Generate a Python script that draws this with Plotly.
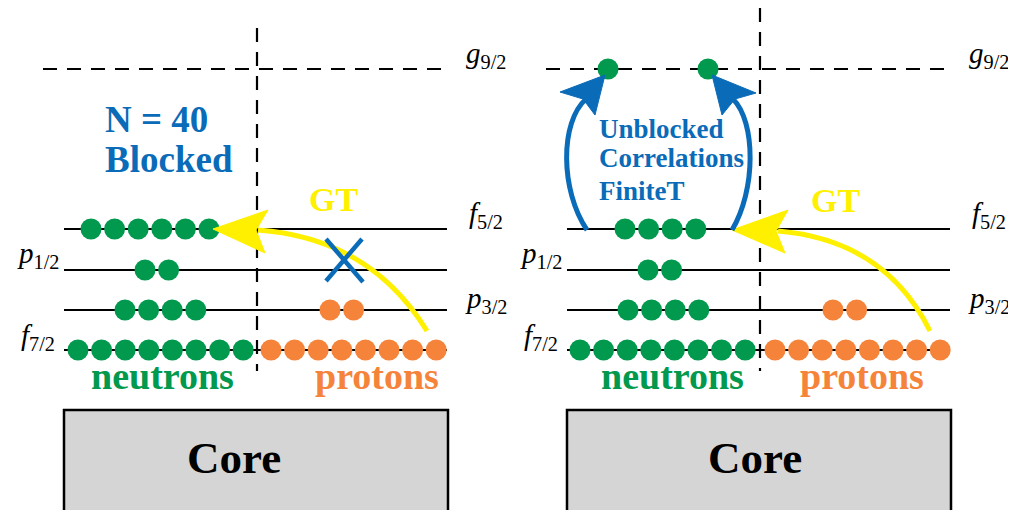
import plotly.graph_objects as go

# shell-model occupancies, levels from the bottom up
levels = ["f7/2", "p3/2", "p1/2", "f5/2", "g9/2"]
blocked_neutrons = [8, 4, 2, 6, 0]
blocked_protons = [8, 2, 0, 0, 0]
unblocked_neutrons = [8, 4, 2, 4, 2]
unblocked_protons = [8, 2, 0, 0, 0]

# layout (pixel-like coordinates, y grows downwards)
level_y = [350, 310, 270, 229, 69]
label_side = ["left", "right", "left", "right", "right"]
label_y = [337, 300, 255, 215, 55]
n_start = {"left": [78, 125, 145, 91, 0], "right": [580, 628, 648, 625, 608]}
p_start = {"left": [271, 330, 0, 0, 0], "right": [775, 833, 0, 0, 0]}
n_step = {"left": [23.6] * 5, "right": [23.6, 23.6, 23.6, 23.6, 100]}
# x centres of "neutrons", "protons", "Core"
text_x = {"left": [162, 377, 234], "right": [672, 862, 755]}
OFF = 503
PAGE = 8  # body margin of the html page

GREEN = "#00994d"
ORANGE = "#f5843a"
BLUE = "#0a6bb8"
YELLOW = "#fff000"
FONT = "Liberation Serif"

fig = go.Figure()
shapes = []
annotations = []


def text(x, y, s, size, color="black", xanchor="center", bold=True):
    annotations.append(dict(
        x=x, y=y, xref="x", yref="y", text=s, showarrow=False,
        xanchor=xanchor, yanchor="middle",
        font=dict(family=FONT, size=size, color=color, weight="bold" if bold else "normal"),
    ))


def panel(side, neutrons, protons):
    dx = 0 if side == "left" else OFF
    # core box
    shapes.append(dict(type="rect", xref="x", yref="y", x0=64 + dx, x1=448 + dx, y0=410, y1=520,
                       fillcolor="#d5d5d5", line=dict(color="black", width=2.5), layer="below"))
    # levels
    for i, name in enumerate(levels):
        y = level_y[i]
        if name == "g9/2":
            fig.add_trace(go.Scatter(x=[43 + dx, 447 + dx], y=[y, y], mode="lines",
                                     line=dict(color="black", width=2.2, dash="14px,10px")))
        else:
            fig.add_trace(go.Scatter(x=[64 + dx, 447 + dx], y=[y, y], mode="lines",
                                     line=dict(color="black", width=2.2)))
        lx = (486 if label_side[i] == "right" else 38) + dx
        letter, sub = name[0], name[1:]
        text(lx, label_y[i],
             f"<i style='font-size:29px'>{letter}</i><sub style='font-size:20px'>{sub}</sub>",
             29, bold=False)
    # vertical dashed divider
    fig.add_trace(go.Scatter(x=[257 + dx, 257 + dx], y=[28 if side == "left" else 8, 371], mode="lines",
                             line=dict(color="black", width=2.2, dash="14px,10px")))
    # particles
    xs, ys = [], []
    for i, n in enumerate(neutrons):
        xs += [n_start[side][i] + k * n_step[side][i] for k in range(n)]
        ys += [level_y[i]] * n
    fig.add_trace(go.Scatter(x=xs, y=ys, mode="markers", marker=dict(size=21, color=GREEN)))
    xs, ys = [], []
    for i, n in enumerate(protons):
        xs += [p_start[side][i] + k * 23.6 for k in range(n)]
        ys += [level_y[i]] * n
    fig.add_trace(go.Scatter(x=xs, y=ys, mode="markers", marker=dict(size=21, color=ORANGE)))
    tx = text_x[side]
    text(tx[0], 376, "neutrons", 38, GREEN)
    text(tx[1], 376, "protons", 38, ORANGE)
    text(tx[2], 458, "Core", 45)


panel("left", blocked_neutrons, blocked_protons)
panel("right", unblocked_neutrons, unblocked_protons)


def head(tip, upper, notch, lower, color):
    shapes.append(dict(type="path", xref="x", yref="y",
                       path=f"M{tip[0]},{tip[1]} L{upper[0]},{upper[1]} L{notch[0]},{notch[1]} L{lower[0]},{lower[1]} Z",
                       fillcolor=color, line=dict(color=color, width=1), layer="above"))


# GT arrows
shapes.append(dict(type="path", xref="x", yref="y", path="M427,331 Q370,238 258,230",
                   line=dict(color=YELLOW, width=5), layer="above"))
head((213, 229), (268, 210), (256, 230), (265, 253), YELLOW)
shapes.append(dict(type="path", xref="x", yref="y", path="M930,331 Q885,240 778,231",
                   line=dict(color=YELLOW, width=5), layer="above"))
head((732, 230), (788, 210), (776, 231), (785, 253), YELLOW)
text(333, 199, "GT", 34, YELLOW)
text(835, 200, "GT", 34, YELLOW)

# blocked cross
shapes.append(dict(type="line", xref="x", yref="y", x0=326, y0=239, x1=363, y1=282,
                   line=dict(color=BLUE, width=4.5), layer="above"))
shapes.append(dict(type="line", xref="x", yref="y", x0=362, y0=239, x1=326, y1=281,
                   line=dict(color=BLUE, width=4.5), layer="above"))
text(103, 119, "N = 40", 37, BLUE, xanchor="left")
text(103, 159, "Blocked", 37, BLUE, xanchor="left")

# finite-temperature excitations
shapes.append(dict(type="path", xref="x", yref="y", path="M587,230 C560,190 560,122 586,99",
                   line=dict(color=BLUE, width=5), layer="above"))
head((605, 75), (560, 92), (583, 99), (595, 115), BLUE)
shapes.append(dict(type="path", xref="x", yref="y", path="M732,230 C756,190 756,122 733,99",
                   line=dict(color=BLUE, width=5), layer="above"))
head((712, 75), (756, 93), (735, 99), (722, 115), BLUE)
text(597, 129, "Unblocked", 27, BLUE, xanchor="left")
text(597, 158, "Correlations", 27, BLUE, xanchor="left")
text(597, 191, "FiniteT", 27, BLUE, xanchor="left")

fig.update_layout(
    width=1016 - PAGE, height=510 - PAGE,
    margin=dict(l=0, r=0, t=0, b=0),
    paper_bgcolor="white", plot_bgcolor="white",
    showlegend=False,
    shapes=shapes, annotations=annotations,
    xaxis=dict(range=[PAGE, 1016], visible=False, fixedrange=True),
    yaxis=dict(range=[510, PAGE], visible=False, fixedrange=True),
)
fig.write_html("out.html")
